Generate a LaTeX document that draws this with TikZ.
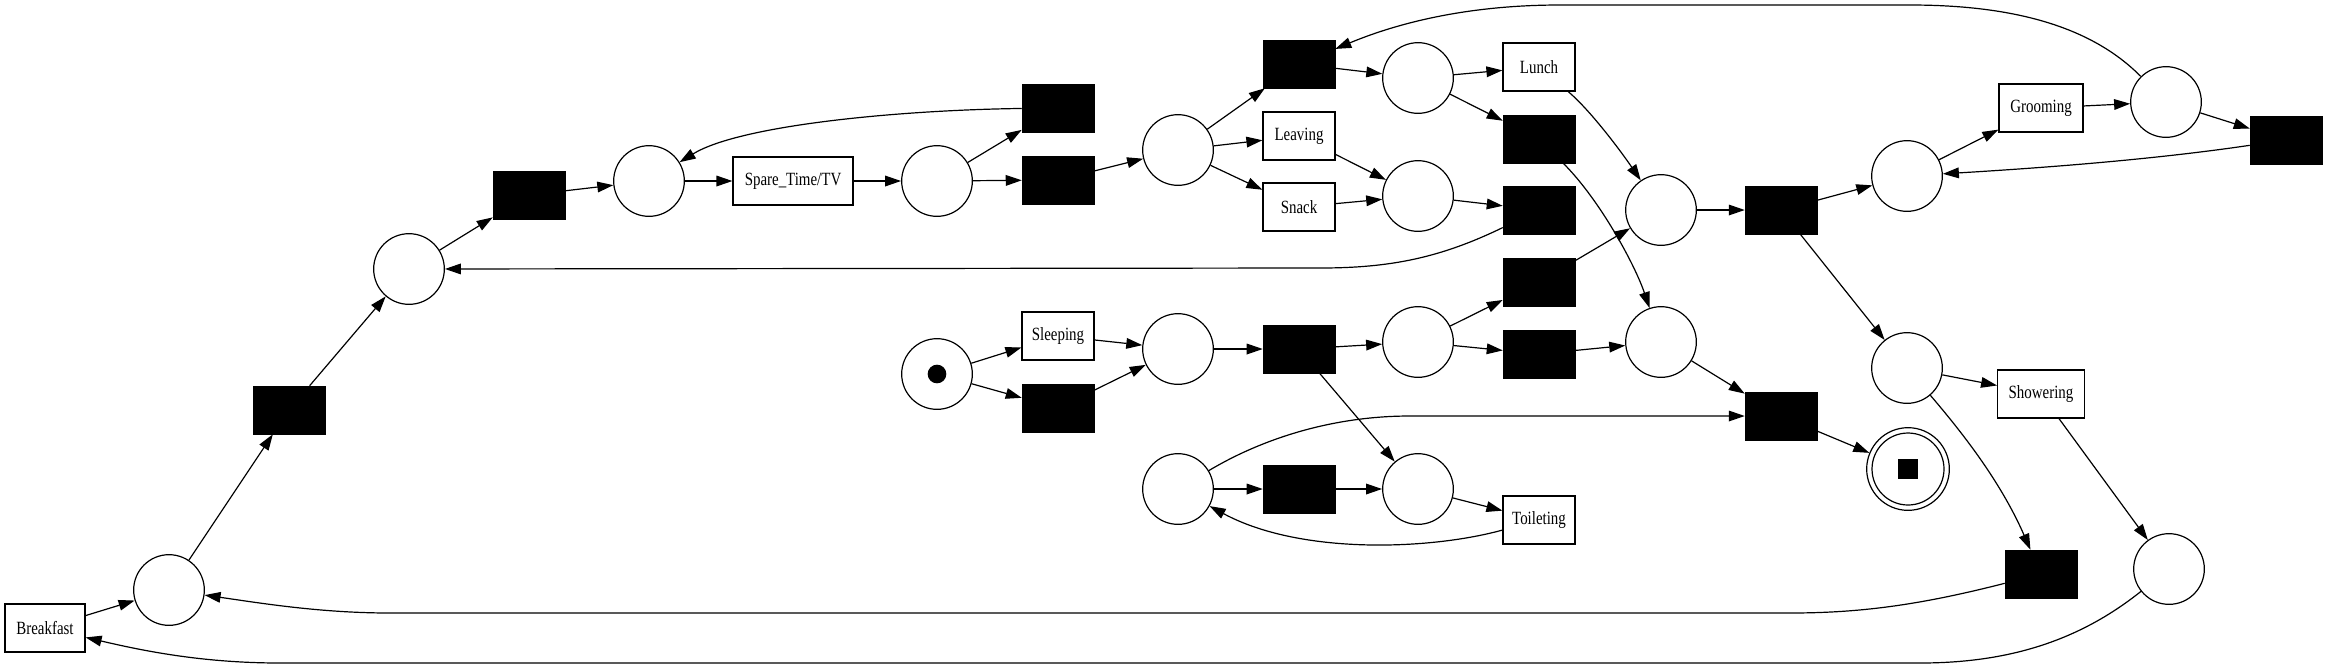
\documentclass[tikz,border=0pt]{standalone}
\usepackage{fontspec}
\setmainfont[FakeStretch=0.8]{Liberation Serif}
\usetikzlibrary{arrows.meta}
\tikzset{
  place/.style={circle, draw, line width=0.9pt, minimum size=53pt, inner sep=0pt},
  trans/.style={rectangle, fill=black, draw=black, minimum width=54pt, minimum height=36pt, inner sep=0pt},
  act/.style={rectangle, draw, line width=0.9pt, minimum height=36pt, inner sep=0pt, font=\fontsize{14}{16}\selectfont},
  arc/.style={line width=0.9pt, -{Triangle[length=12pt,width=8pt]}},
}
\begin{document}
\begin{tikzpicture}[x=0.75pt, y=-0.75pt]
\useasboundingbox (0,0) rectangle (2327,669);
% nodes
\node[act, minimum width=60pt] (Bk) at (45,628) {Breakfast};
\node[place] (P1) at (169,590) {};
\node[trans] (T1) at (289,410) {};
\node[place] (P2) at (409,269) {};
\node[trans] (T2) at (529,195) {};
\node[place] (P3) at (649,181) {};
\node[act, minimum width=90pt] (Spare) at (793,181) {Spare\_Time/TV};
\node[place] (P4) at (937,181) {};
\node[trans] (T3) at (1058,108) {};
\node[trans] (T4) at (1058,180) {};
\node[place] (P5) at (1178,150) {};
\node[trans] (T5) at (1299,64) {};
\node[act, minimum width=54pt] (Leav) at (1299,136) {Leaving};
\node[act, minimum width=54pt] (Snack) at (1299,207) {Snack};
\node[place] (P6) at (1418,78) {};
\node[place] (P7) at (1418,196) {};
\node[act, minimum width=54pt] (Lunch) at (1539,67) {Lunch};
\node[trans] (T6) at (1539,139) {};
\node[trans] (T7) at (1539,210) {};
\node[place] (P8) at (1661,210) {};
\node[trans] (T8) at (1781,210) {};
\node[place] (P9) at (1907,176) {};
\node[act, minimum width=63pt] (Groom) at (2041,108) {Grooming};
\node[place] (P10) at (2166,102) {};
\node[trans] (T9) at (2286,140) {};
\node[place] (P11) at (1907,368) {};
\node[act, minimum width=65pt] (Shower) at (2041,394) {Showering};
\node[place] (P12) at (2169,569) {};
\node[trans] (T10) at (2041,574) {};
\node[place, minimum size=62pt] (Fin) at (1908,469) {};
\draw[line width=0.9pt] (Fin.center) circle[radius=27pt];
\node[fill=black, minimum size=15pt, inner sep=0pt] (tokF) at (Fin) {};
\node[trans] (T11) at (1781,416) {};
\node[place] (P13) at (1661,342) {};
\node[trans] (T12) at (1539,282) {};
\node[trans] (T13) at (1539,354) {};
\node[place] (P14) at (1418,342) {};
\node[trans] (T14) at (1299,349) {};
\node[place] (P15) at (1178,349) {};
\node[act, minimum width=54pt] (Sleep) at (1058,336) {Sleeping};
\node[trans] (T15) at (1058,408) {};
\node[place] (Pst) at (937,374) {};
\node[circle, fill=black, minimum size=14pt, inner sep=0pt] (tokS) at (Pst) {};
\node[place] (P16) at (1178,489) {};
\node[trans] (T16) at (1299,489) {};
\node[place] (P17) at (1418,489) {};
\node[act, minimum width=54pt] (Toilet) at (1539,520) {Toileting};
% straight arcs
\draw[arc] (Bk) -- (P1);
\draw[arc] (P1) -- (T1);
\draw[arc] (T1) -- (P2);
\draw[arc] (P2) -- (T2);
\draw[arc] (T2) -- (P3);
\draw[arc] (P3) -- (Spare);
\draw[arc] (Spare) -- (P4);
\draw[arc] (P4) -- (T3);
\draw[arc] (P4) -- (T4);
\draw[arc] (T4) -- (P5);
\draw[arc] (P5) -- (T5);
\draw[arc] (P5) -- (Leav);
\draw[arc] (P5) -- (Snack);
\draw[arc] (T5) -- (P6);
\draw[arc] (Leav) -- (P7);
\draw[arc] (Snack) -- (P7);
\draw[arc] (P6) -- (Lunch);
\draw[arc] (P6) -- (T6);
\draw[arc] (P7) -- (T7);
\draw[arc] (T12) -- (P8);
\draw[arc] (P8) -- (T8);
\draw[arc] (T8) -- (P9);
\draw[arc] (T8) -- (P11);
\draw[arc] (P9) -- (Groom);
\draw[arc] (Groom) -- (P10);
\draw[arc] (P10) -- (T9);
\draw[arc] (P11) -- (Shower);
\draw[arc] (Shower) -- (P12);
\draw[arc] (Pst) -- (Sleep);
\draw[arc] (Pst) -- (T15);
\draw[arc] (Sleep) -- (P15);
\draw[arc] (T15) -- (P15);
\draw[arc] (P15) -- (T14);
\draw[arc] (T14) -- (P14);
\draw[arc] (T14) -- (P17);
\draw[arc] (P14) -- (T12);
\draw[arc] (P14) -- (T13);
\draw[arc] (T13) -- (P13);
\draw[arc] (P13) -- (T11);
\draw[arc] (T11) -- (Fin);
\draw[arc] (P16) -- (T16);
\draw[arc] (T16) -- (P17);
\draw[arc] (P17) -- (Toilet);
% curved arcs
\draw[arc] (T3) .. controls (900,110) and (740,125) .. (P3);
\draw[arc] (T7) .. controls (1440,258) and (1390,268) .. (1320,268) -- (P2);
\draw[arc] (T6) .. controls (1600,200) and (1635,265) .. (P13);
\draw[arc] (Lunch) .. controls (1590,110) and (1620,150) .. (P8);
\draw[arc] (P10) .. controls (2090,25) and (2010,5) .. (1910,5) -- (1560,5) .. controls (1470,5) and (1400,22) .. (T5);
\draw[arc] (T9) .. controls (2150,160) and (2040,168) .. (P9);
\draw[arc] (P11) .. controls (1960,430) and (2000,480) .. (T10);
\draw[arc] (T10) .. controls (1920,605) and (1860,613) .. (1790,613) -- (390,613) .. controls (320,613) and (260,603) .. (P1);
\draw[arc] (P12) .. controls (2080,640) and (2010,663) .. (1920,663) -- (280,663) .. controls (200,663) and (140,650) .. (Bk);
\draw[arc] (P16) .. controls (1260,440) and (1330,416) .. (1410,416) -- (T11);
\draw[arc] (Toilet) .. controls (1430,550) and (1300,555) .. (P16);
\end{tikzpicture}
\end{document}
